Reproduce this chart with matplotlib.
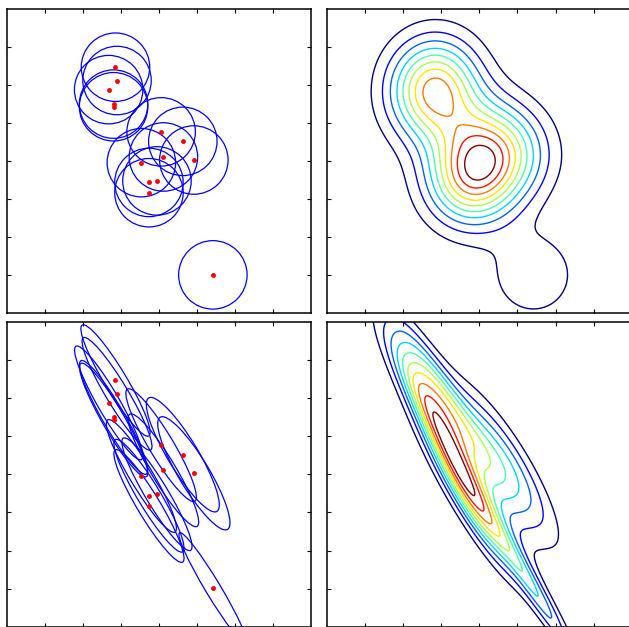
import numpy as np
import matplotlib
matplotlib.use("Agg")
import matplotlib.pyplot as plt
from matplotlib.patches import Circle, Ellipse

# sample points (axes run 0..8)
x_pts = [2.86, 2.90, 2.68, 2.81, 2.81, 4.06, 4.63, 4.12, 4.92, 3.54, 3.74, 3.95, 3.74, 5.42]
y_pts = [6.47, 6.12, 5.88, 5.50, 5.43, 4.77, 4.52, 4.11, 4.03, 3.96, 3.44, 3.48, 3.17, 1.01]

# top row: isotropic kernel (drawn circle radius, kernel width)
circle_r = 0.90
sigma_iso = 0.80

# bottom row: local kernels, ellipse semi-axes and angle (deg)
ell_major = [1.70, 1.72, 1.72, 1.72, 1.72, 1.72, 1.74, 1.72, 1.72, 1.72, 1.72, 1.72, 1.72, 1.70]
ell_minor = [0.29, 0.29, 0.29, 0.29, 0.29, 0.32, 0.40, 0.32, 0.40, 0.30, 0.30, 0.30, 0.30, 0.20]
ell_angle = [-59, -59, -60, -60, -60, -59, -59, -59, -59, -59, -59, -59, -59, -59]

# contour levels
levels_top = [0.535, 1.07, 1.605, 2.14, 2.675, 3.21, 3.745, 4.28, 4.815, 5.35]
levels_bot = [0.44, 0.88, 1.32, 1.76, 2.20, 2.64, 3.08, 3.52, 3.96, 4.40]

HALF = np.sqrt(2 * np.log(2))  # drawn ellipse sits at half height
B_REF = 0.30                   # normalisation reference for kernel height

gx, gy = np.meshgrid(np.linspace(0, 8, 401), np.linspace(0, 8, 401))

# isotropic density
z_iso = np.zeros_like(gx)
for x0, y0 in zip(x_pts, y_pts):
    z_iso += np.exp(-((gx - x0) ** 2 + (gy - y0) ** 2) / (2 * sigma_iso ** 2))

# local (anisotropic) density, kernels normalised by their area
z_loc = np.zeros_like(gx)
for x0, y0, a, b, ang in zip(x_pts, y_pts, ell_major, ell_minor, ell_angle):
    t = np.deg2rad(ang)
    dx, dy = gx - x0, gy - y0
    u = dx * np.cos(t) + dy * np.sin(t)
    v = -dx * np.sin(t) + dy * np.cos(t)
    z_loc += (B_REF / b) * np.exp(-0.5 * ((u / (a / HALF)) ** 2 + (v / (b / HALF)) ** 2))

fig = plt.figure(figsize=(6.29, 6.27), dpi=100)
W, H = 629.0, 627.0
boxes = [(6.7, 9.0), (327.3, 9.0), (6.7, 322.3), (327.3, 322.3)]
size = 304.3
axs = [fig.add_axes([l / W, 1 - (t + size) / H, size / W, size / H]) for l, t in boxes]

for i, ax in enumerate(axs):
    ax.set_xlim(0, 8)
    ax.set_ylim(0, 8)
    ax.set_xticks(range(1, 8))
    ax.set_yticks(range(1, 8))
    ax.set_xticklabels([])
    ax.set_yticklabels([])
    ax.tick_params(direction="in", length=3, width=0.8, top=True, right=(i % 2 == 0))
    for s in ax.spines.values():
        s.set_linewidth(1.1)

ax = axs[0]
for x0, y0 in zip(x_pts, y_pts):
    ax.add_patch(Circle((x0, y0), circle_r, fill=False, color="blue", lw=0.9))
ax.plot(x_pts, y_pts, "o", color="red", ms=3.5, mec="none")

axs[1].contour(gx, gy, z_iso, levels=levels_top, cmap="jet", linewidths=1.0)

ax = axs[2]
for x0, y0, a, b, ang in zip(x_pts, y_pts, ell_major, ell_minor, ell_angle):
    ax.add_patch(Ellipse((x0, y0), 2 * a, 2 * b, angle=ang, fill=False, color="blue", lw=0.9))
ax.plot(x_pts, y_pts, "o", color="red", ms=3.5, mec="none")

axs[3].contour(gx, gy, z_loc, levels=levels_bot, cmap="jet", linewidths=1.0)

fig.savefig("out.png", dpi=100)
